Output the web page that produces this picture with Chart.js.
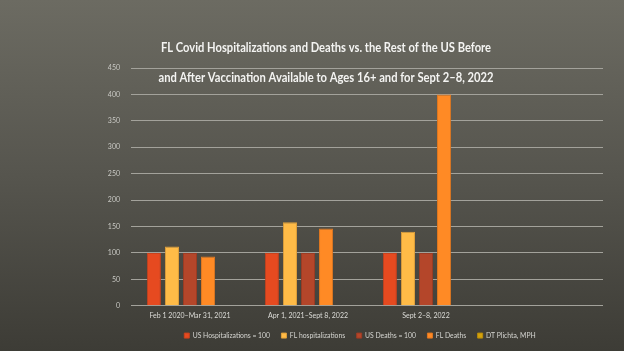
<!DOCTYPE html>
<html lang="en">
<head>
  <meta charset="UTF-8" />
  <title>FL Covid Hospitalizations and Deaths</title>
  <script src="https://cdn.jsdelivr.net/npm/chart.js"></script>
  <style>
    html, body { margin:0; padding:0; }
    body { width:624px; height:351px; overflow:hidden;
      background: linear-gradient(to bottom, #6c6b62 0%, #56554e 50%, #3d3c36 100%); }
    #wrap { position:relative; width:624px; height:351px; }
  </style>
</head>
<body>
  <div id="wrap"><canvas id="chart" width="624" height="351"></canvas></div>

  <script>
    // values
    const categories = ['Feb 1 2020\u2013Mar 31, 2021', 'Apr 1, 2021\u2013Sept 8, 2022', 'Sept 2\u20138, 2022', ''];
    const usHosp   = [100, 100, 100, null];
    const flHosp   = [112, 158, 140, null];
    const usDeaths = [100, 100, 100, null];
    const flDeaths = [93, 146, 400, null];
    const plichta  = [null, null, null, null];
    const yMax = 450, yStep = 50;
    const titleLines = [
      'FL Covid Hospitalizations and Deaths vs. the Rest of the US Before',
      'and After Vaccination Available to Ages 16+ and for Sept 2\u20138, 2022'
    ];

    const smallFont = { family: 'Lato, "Liberation Sans", sans-serif', size: 7 };

    // title drawn over the plot, squeezed to the width of the original
    const titlePlugin = {
      id: 'overTitle',
      beforeDraw(chart) {
        // legend in the original sits right of centre
        chart.legend.left = 117;
      },
      afterDraw(chart) {
        const ctx = chart.ctx;
        const rows = [[48, 330], [78, 335]];
        ctx.save();
        ctx.font = 'bold 12.5px Lato, "Liberation Sans", sans-serif';
        ctx.fillStyle = '#f4f4f2';
        ctx.textAlign = 'center';
        ctx.textBaseline = 'middle';
        titleLines.forEach((t, i) => {
          const w = ctx.measureText(t).width;
          const sx = rows[i][1] / w;
          ctx.save();
          ctx.translate(326, rows[i][0]);
          ctx.scale(sx, 1);
          ctx.fillText(t, 0, 0);
          ctx.restore();
        });
        ctx.restore();
      }
    };

    const ds = (label, data, c, b) => ({ label, data, backgroundColor: c, borderColor: b, borderWidth: 1,
      categoryPercentage: 0.765, barPercentage: 0.78 });

    new Chart(document.getElementById('chart'), {
      type: 'bar',
      data: {
        labels: categories,
        datasets: [
          ds('US Hospitalizations = 100', usHosp, '#e64a20', '#c8421d'),
          ds('FL hospitalizations', flHosp, '#ffbb47', '#e0a03a'),
          ds('US Deaths = 100', usDeaths, '#b4462a', '#9c3c24'),
          ds('FL Deaths', flDeaths, '#ff8a25', '#e07820'),
          ds('DT Plichta, MPH', plichta, '#d4a20c', '#b88c0a')
        ]
      },
      options: {
        responsive: false,
        animation: false,
        layout: { padding: { left: 0, right: 21, top: 68, bottom: 2 } },
        plugins: {
          tooltip: { enabled: false },
          title: { display: false },
          legend: {
            position: 'bottom',
            labels: { boxWidth: 5, boxHeight: 5, padding: 11.5, color: '#d6d6d2',
              font: { family: 'Lato, "Liberation Sans", sans-serif', size: 6.8 } }
          }
        },
        scales: {
          x: {
            grid: { display: false, drawTicks: false },
            border: { display: false },
            afterFit(scale) { scale.height = 15; },
            ticks: { color: '#dcdcd8', padding: 6, maxRotation: 0, autoSkip: false, font: smallFont }
          },
          y: {
            min: 0, max: yMax,
            afterFit(scale) { scale.width = 131; },
            grid: { color: '#a3a29b', lineWidth: 1, drawTicks: false },
            border: { display: false },
            ticks: { stepSize: yStep, color: '#c9c9c4', padding: 11, font: smallFont }
          }
        }
      },
      plugins: [titlePlugin]
    });
  </script>
</body>
</html>
